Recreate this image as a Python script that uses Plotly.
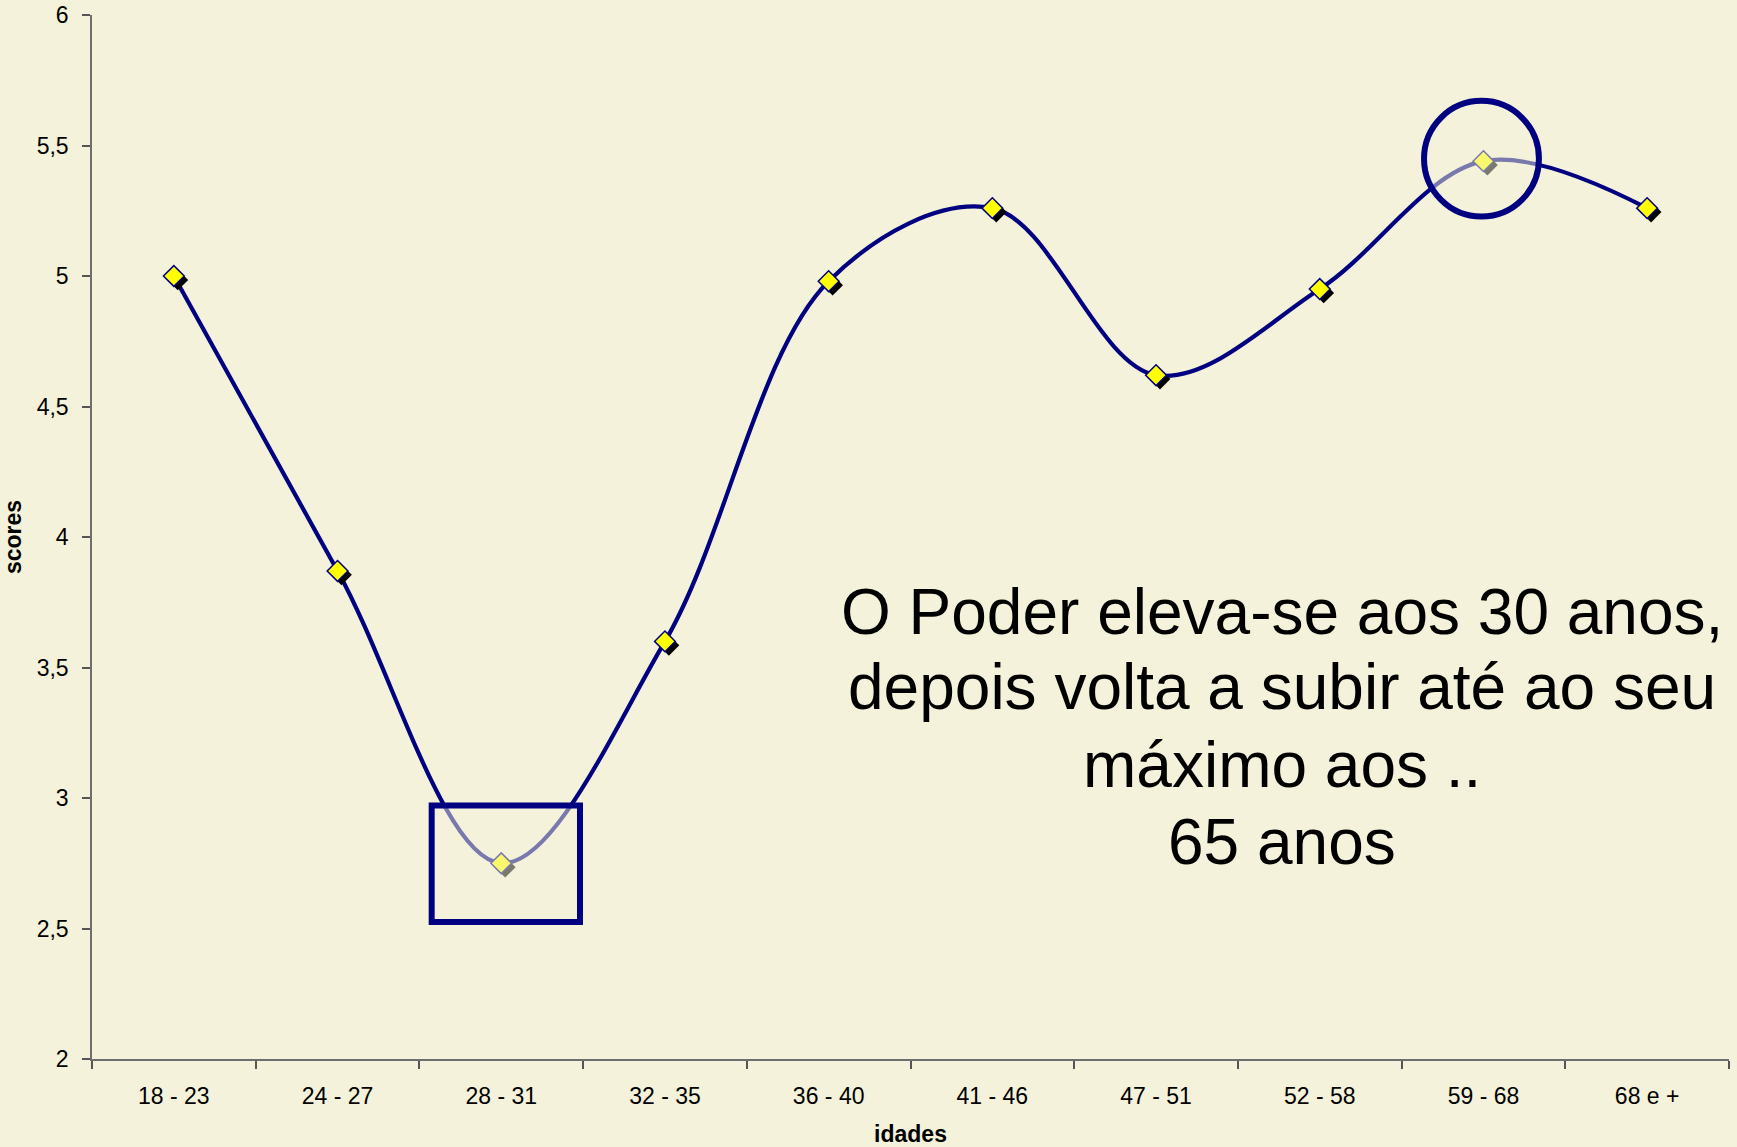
import plotly.graph_objects as go

idades = ["18 - 23", "24 - 27", "28 - 31", "32 - 35", "36 - 40",
          "41 - 46", "47 - 51", "52 - 58", "59 - 68", "68 e +"]
scores = [5.0, 3.87, 2.75, 3.6, 4.98, 5.26, 4.62, 4.95, 5.44, 5.26]

nota = ["O Poder eleva-se aos 30 anos,",
        "depois volta a subir até ao seu",
        "máximo aos ..",
        "65 anos"]
nota_y = [0.428, 0.356, 0.282, 0.208]

bg = "#F4F2DA"
navy = "#000080"
font = "Arial, Liberation Sans, sans-serif"

fig = go.Figure()

# smoothed line
fig.add_trace(go.Scatter(
    x=idades, y=scores, mode="lines",
    line=dict(color=navy, width=4.2, shape="spline", smoothing=1.0),
    xaxis="x", yaxis="y", hoverinfo="skip",
))
# marker shadows, drawn on a slightly shifted overlay axis
fig.add_trace(go.Scatter(
    x=idades, y=scores, mode="markers",
    marker=dict(symbol="diamond", size=16, color="black", line=dict(width=0)),
    xaxis="x2", yaxis="y2", hoverinfo="skip",
))
# markers
fig.add_trace(go.Scatter(
    x=idades, y=scores, mode="markers",
    marker=dict(symbol="diamond", size=16, color="#FFFF00",
                line=dict(color=navy, width=1.5)),
    xaxis="x3", yaxis="y3",
))

shift_x = 0.024   # ~4 px in category units
shift_y = 0.015   # ~4 px in score units

fig.update_layout(
    width=1737, height=1147,
    paper_bgcolor=bg, plot_bgcolor=bg,
    margin=dict(l=92, r=8, t=15, b=88),
    showlegend=False,
    separators=", ",
    font=dict(family=font, color="black", size=23),
    xaxis=dict(
        type="category", range=[-0.5, 9.5], automargin=False,
        showline=True, linecolor="#6E6E6E", linewidth=1.5,
        ticks="outside", ticklen=8, tickcolor="#555555", tickwidth=1.5,
        tickson="boundaries", showgrid=False, zeroline=False,
        tickfont=dict(size=23), ticklabelstandoff=16,
        title=dict(text="<b>idades</b>", font=dict(size=23), standoff=22),
    ),
    yaxis=dict(
        range=[2, 6], dtick=0.5, automargin=False,
        showline=True, linecolor="#6E6E6E", linewidth=1.5,
        ticks="outside", ticklen=8, tickcolor="#555555", tickwidth=1.5,
        showgrid=False, zeroline=False,
        tickfont=dict(size=23), ticklabelstandoff=9,
        title=dict(text="<b>scores</b>", font=dict(size=23), standoff=14),
    ),
    xaxis2=dict(type="category", range=[-0.5 - shift_x, 9.5 - shift_x],
                overlaying="x", visible=False),
    yaxis2=dict(range=[2 + shift_y, 6 + shift_y], overlaying="y", visible=False),
    xaxis3=dict(type="category", range=[-0.5, 9.5], overlaying="x", visible=False),
    yaxis3=dict(range=[2, 6], overlaying="y", visible=False),
)

# highlights: box around the minimum, circle around the maximum
veil = "rgba(244,242,218,0.5)"
i_min = scores.index(min(scores))
i_max = scores.index(max(scores))
fig.add_shape(type="rect", xref="x", yref="y", layer="above",
              x0=i_min - 0.425, x1=i_min + 0.481,
              y0=scores[i_min] - 0.225, y1=scores[i_min] + 0.221,
              line=dict(color=navy, width=6), fillcolor=veil)
fig.add_shape(type="circle", xref="x", yref="y", layer="above",
              x0=i_max - 0.363, x1=i_max + 0.339,
              y0=scores[i_max] - 0.212, y1=scores[i_max] + 0.231,
              line=dict(color=navy, width=6), fillcolor=veil)

for txt, yy in zip(nota, nota_y):
    fig.add_annotation(text=txt, x=0.727, y=yy, xref="paper", yref="paper",
                       xanchor="center", yanchor="middle", showarrow=False,
                       font=dict(size=64, family=font, color="black"))

# drop the default page margin so the figure fills the window
fig.write_html("out.html",
               config={"displayModeBar": False},
               post_script="document.body.style.margin='0';"
                           "document.body.style.background='#F4F2DA';")
